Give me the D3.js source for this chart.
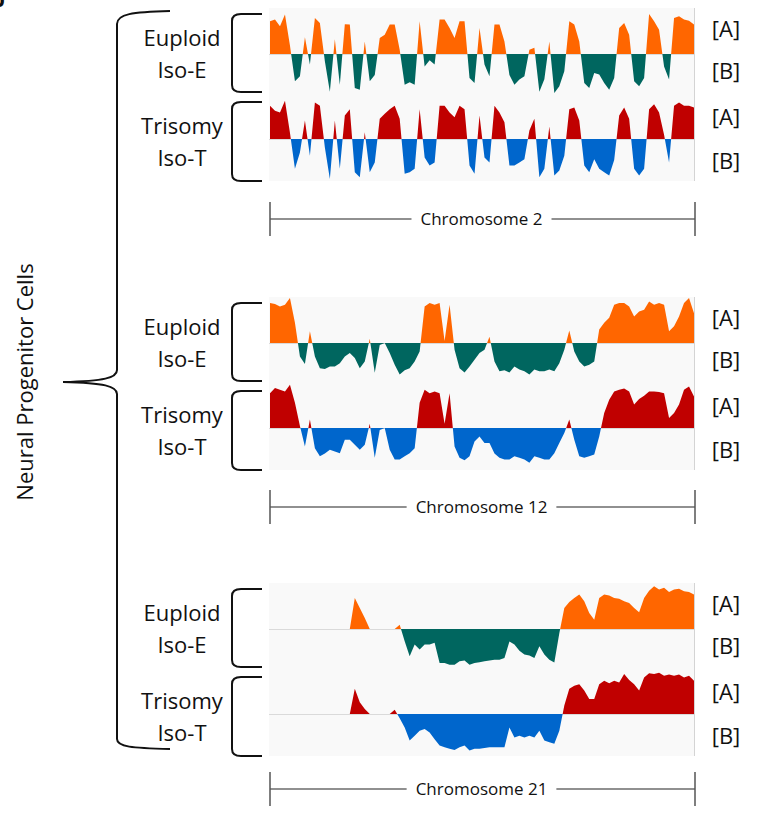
<!DOCTYPE html>
<html>
<head>
<meta charset="utf-8">
<script src="https://cdn.jsdelivr.net/npm/d3@7"></script>
<style>
  body { margin: 0; background: #fff; }
  text { font-family: "Open Sans", "Noto Sans", sans-serif; fill: #111; }
</style>
</head>
<body>
<div id="chart"></div>
<script>
// compartment score per bin along each chromosome (A > 0, B < 0)
const chr2Euploid = [0.78,0.82,0.66,0.94,0.2,-0.65,-0.53,0.4,-0.25,0.86,0.74,-0.17,-0.9,0.35,-0.73,0.71,0.7,-0.81,-0.85,0.3,
  -0.65,-0.5,0.38,0.46,0.7,0.7,0.1,-0.73,-0.67,-0.73,0.78,-0.3,-0.15,-0.25,0.82,0.82,0.62,0.38,0.78,0.78,
  -0.57,-0.69,0.62,-0.25,-0.53,0.7,0.7,0.3,-0.5,-0.73,-0.61,-0.53,0.1,0.15,-0.9,-0.6,0.3,-0.93,-0.77,-0.41,
  0.78,0.7,0.3,-0.69,-0.81,-0.45,-0.49,-0.69,-0.85,-0.57,0.62,0.74,0.46,-0.65,-0.77,-0.57,0.95,0.78,0.58,-0.3,
  -0.61,0.86,0.9,0.82,0.79,0.7];
const chr2Trisomy = [0.79,0.67,0.63,0.91,0.15,-0.71,-0.32,0.44,-0.4,0.87,0.79,-0.2,-0.95,0.44,-0.71,0.56,0.71,-0.79,-0.91,0.16,
  -0.79,-0.56,0.48,0.6,0.71,0.79,0.48,-0.83,-0.79,-0.71,0.71,-0.44,-0.63,-0.56,0.79,0.79,0.63,0.52,0.79,0.71,
  -0.63,-0.83,0.56,-0.44,-0.56,0.79,0.63,0.4,-0.63,-0.63,-0.56,-0.48,0.2,0.48,-0.91,-0.71,0.3,-0.87,-0.75,-0.4,
  0.71,0.75,0.44,-0.63,-0.79,-0.48,-0.71,-0.79,-0.87,-0.5,0.56,0.75,0.48,-0.71,-0.87,-0.71,0.71,0.83,0.63,0.1,
  -0.56,0.79,0.87,0.79,0.79,0.75];
const chr12Euploid = [0.95,0.93,0.87,0.91,1.07,0.48,-0.32,-0.5,0.28,-0.32,-0.6,-0.62,-0.56,-0.56,-0.48,-0.32,-0.24,-0.36,-0.6,-0.44,
  0.1,-0.71,-0.05,0,-0.24,-0.52,-0.75,-0.65,-0.6,-0.44,-0.2,0.87,0.95,0.91,0.95,0.05,0.91,-0.16,-0.6,-0.7,
  -0.56,-0.4,-0.24,-0.16,0.15,-0.44,-0.67,-0.65,-0.7,-0.56,-0.63,-0.67,-0.75,-0.63,-0.67,-0.67,-0.63,-0.67,-0.48,-0.16,
  0.3,-0.2,-0.44,-0.56,-0.52,-0.44,0.32,0.48,0.6,0.91,0.95,0.95,0.87,0.63,0.75,0.79,0.99,0.91,0.95,0.91,
  0.28,0.4,0.63,0.95,1.07,0.71];
const chr12Trisomy = [0.83,0.95,0.91,0.87,1.03,0.6,0.05,-0.44,0.2,-0.48,-0.67,-0.61,-0.52,-0.56,-0.6,-0.28,-0.28,-0.4,-0.52,-0.4,
  0.1,-0.71,-0.05,0,-0.52,-0.75,-0.75,-0.67,-0.6,-0.48,0.6,0.91,0.83,0.87,0.83,0.1,0.83,-0.44,-0.71,-0.77,
  -0.67,-0.32,-0.2,-0.36,-0.36,-0.61,-0.71,-0.75,-0.75,-0.67,-0.71,-0.75,-0.83,-0.67,-0.71,-0.75,-0.75,-0.6,-0.36,-0.12,
  0.2,-0.28,-0.67,-0.71,-0.67,-0.63,-0.2,0.36,0.67,0.87,0.91,0.94,0.87,0.56,0.69,0.77,0.87,0.87,0.86,0.83,
  0.24,0.36,0.56,0.91,0.99,0.75];
const chr21Euploid = [0,0,0,0,0,0,0,0,0,0,0,0,0,0,0,0,0,0.74,0.5,0.26,
  0,0,0,0,0,0,0.1,-0.29,-0.65,-0.37,-0.49,-0.37,-0.37,-0.33,-0.81,-0.81,-0.85,-0.85,-0.77,-0.75,
  -0.85,-0.81,-0.79,-0.77,-0.75,-0.73,-0.73,-0.69,-0.3,-0.37,-0.52,-0.61,-0.63,-0.69,-0.41,-0.61,-0.73,-0.8,-0.1,0.5,
  0.64,0.74,0.82,0.66,0.38,0.22,0.74,0.82,0.8,0.74,0.72,0.66,0.62,0.5,0.4,0.74,0.91,1.02,0.94,0.98,
  0.88,0.94,0.96,0.9,0.88,0.82];
const chr21Trisomy = [0,0,0,0,0,0,0,0,0,0,0,0,0,0,0,0,0,0.6,0.28,0.12,
  0,0,0,0,0,0.1,-0.1,-0.32,-0.63,-0.52,-0.4,-0.36,-0.44,-0.6,-0.75,-0.79,-0.83,-0.86,-0.79,-0.75,
  -0.87,-0.83,-0.83,-0.81,-0.79,-0.79,-0.79,-0.79,-0.32,-0.56,-0.52,-0.56,-0.52,-0.56,-0.4,-0.63,-0.67,-0.71,-0.4,0.2,
  0.6,0.67,0.71,0.56,0.36,0.36,0.71,0.79,0.73,0.79,0.75,0.95,0.81,0.71,0.56,0.87,0.97,0.95,0.98,0.91,
  0.94,0.91,0.94,0.87,0.91,0.79];

const chromosomeLabels = ["Chromosome 2", "Chromosome 12", "Chromosome 21"];
const sampleLabels = [["Euploid", "Iso-E"], ["Trisomy", "Iso-T"]];
const compartmentLabels = ["[A]", "[B]"];
const cellLabel = "Neural Progenitor Cells";

const panels = [
  {name: chromosomeLabels[0], tracks: [chr2Euploid, chr2Trisomy]},
  {name: chromosomeLabels[1], tracks: [chr12Euploid, chr12Trisomy]},
  {name: chromosomeLabels[2], tracks: [chr21Euploid, chr21Trisomy]}
];

// A / B colours for euploid and trisomy
var colors = [{a: "#ff6600", b: "#00665f"}, {a: "#c00000", b: "#0066cc"}];

var width = 759, height = 813;
var trackLeft = 269, trackRight = 694;
var panelTop = [8, 297, 583], panelH = 173;
var baseOff = [46, 131];
var rulerY = [219, 507, 789];

var svg = d3.select("#chart").append("svg")
  .attr("width", width).attr("height", height);

// cut-off panel letter in the corner
svg.append("text").attr("x", -9).attr("y", 7)
  .style("font-size", "22px").style("font-weight", "bold").text("b");

var y = d3.scaleLinear().domain([-1, 1]).range([42, -42]);

// bins as points, plus the spot where the line crosses zero between two bins
// so A and B areas meet at the baseline instead of overlapping
function withCrossings(values, x) {
  var pts = [];
  values.forEach(function(v, i) {
    pts.push([x(i), v]);
    var n = values[i + 1];
    if (n !== undefined && v * n < 0) {
      pts.push([x(i) + (x(i + 1) - x(i)) * v / (v - n), 0]);
    }
  });
  return pts;
}

panels.forEach(function(p, pi) {
  var top = panelTop[pi];
  var g = svg.append("g").attr("transform", "translate(0," + top + ")");

  g.append("rect")
    .attr("x", trackLeft).attr("y", 0)
    .attr("width", trackRight - trackLeft).attr("height", panelH)
    .attr("fill", "#f9f9f9");
  g.append("line")
    .attr("x1", trackRight + 0.5).attr("x2", trackRight + 0.5)
    .attr("y1", 0).attr("y2", panelH)
    .attr("stroke", "#d4d4d4").attr("stroke-width", 1);

  p.tracks.forEach(function(values, ti) {
    var x = d3.scaleLinear().domain([0, values.length - 1]).range([trackLeft + 1, trackRight]);
    var t = g.append("g").attr("transform", "translate(0," + baseOff[ti] + ")");

    t.append("line")
      .attr("x1", trackLeft).attr("x2", trackRight)
      .attr("y1", 0.5).attr("y2", 0.5)
      .attr("stroke", "#dadada");

    var pts = withCrossings(values, x);

    var areaA = d3.area()
      .x(function(d) { return d[0]; })
      .y0(y(0))
      .y1(function(d) { return y(Math.max(d[1], 0)); });
    var areaB = d3.area()
      .x(function(d) { return d[0]; })
      .y0(y(0))
      .y1(function(d) { return y(Math.min(d[1], 0)); });

    t.append("path").datum(pts).attr("d", areaA).attr("fill", colors[ti].a);
    t.append("path").datum(pts).attr("d", areaB).attr("fill", colors[ti].b);

    // sample labels
    var base = top + baseOff[ti];
    var lab = svg.append("text").attr("text-anchor", "middle").style("font-size", "22px");
    lab.append("tspan").attr("x", 182).attr("y", base + (ti == 0 ? -8 : -5)).text(sampleLabels[ti][0]);
    lab.append("tspan").attr("x", 182).attr("y", base + (ti == 0 ? 24 : 27)).text(sampleLabels[ti][1]);

    // small bracket
    var bt = base + (ti == 0 ? -40 : -37), bb = base + (ti == 0 ? 38 : 42);
    svg.append("path")
      .attr("d", "M262," + bt + " L241," + bt + " Q232," + bt + " 232," + (bt + 7) +
        " L232," + (bb - 7) + " Q232," + bb + " 241," + bb + " L262," + bb)
      .attr("fill", "none").attr("stroke", "#111").attr("stroke-width", 2);

    // compartment labels
    svg.append("text").attr("x", 726).attr("y", base + (ti == 0 ? -17 : -14))
      .attr("text-anchor", "middle").style("font-size", "22px").text(compartmentLabels[0]);
    svg.append("text").attr("x", 726).attr("y", base + (ti == 0 ? 25 : 30))
      .attr("text-anchor", "middle").style("font-size", "22px").text(compartmentLabels[1]);
  });

  // chromosome ruler
  var ry = rulerY[pi], cx = (trackLeft + trackRight) / 2;
  var lbl = svg.append("text").attr("x", cx).attr("y", ry + 6)
    .attr("text-anchor", "middle").style("font-size", "17px").text(p.name);
  var half = lbl.node().getComputedTextLength() / 2 + 9;
  svg.append("line").attr("x1", trackLeft + 1).attr("x2", cx - half)
    .attr("y1", ry).attr("y2", ry).attr("stroke", "#222").attr("stroke-width", 1.2);
  svg.append("line").attr("x1", cx + half).attr("x2", trackRight + 1)
    .attr("y1", ry).attr("y2", ry).attr("stroke", "#222").attr("stroke-width", 1.2);
  [trackLeft + 1, trackRight + 1].forEach(function(tx) {
    svg.append("line").attr("x1", tx).attr("x2", tx)
      .attr("y1", ry - 17).attr("y2", ry + 17)
      .attr("stroke", "#555").attr("stroke-width", 1.5);
  });
});

// big brace
svg.append("path")
  .attr("d", "M170,11 C132,12 117,14 117,24 L117,370 C117,378 104,381 63,382 C104,383 117,386 117,394" +
    " L117,739 C117,747 132,748 170,749")
  .attr("fill", "none").attr("stroke", "#111").attr("stroke-width", 2);

svg.append("text")
  .attr("transform", "translate(33,382) rotate(-90)")
  .attr("text-anchor", "middle").style("font-size", "22px").text(cellLabel);
</script>
</body>
</html>
